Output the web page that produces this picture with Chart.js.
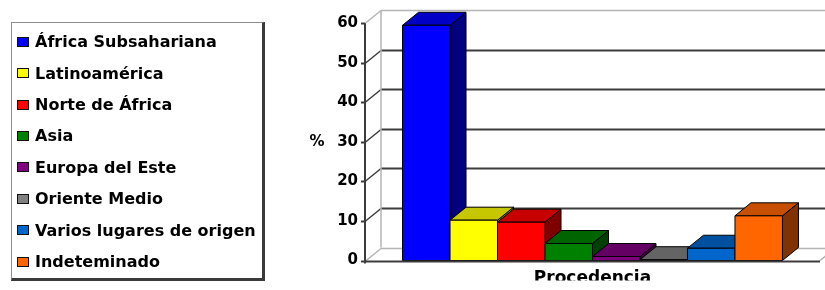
<!DOCTYPE html>
<html>
<head>
<meta charset="utf-8">
<script src="https://cdn.jsdelivr.net/npm/chart.js@4/dist/chart.umd.min.js"></script>
<style>
  html, body { margin: 0; padding: 0; background: #fff; }
  #wrap { position: relative; width: 825px; height: 290px; }
  #chart { position: absolute; left: 0; top: 0; }
  #legend {
    position: absolute; left: 11px; top: 22px; width: 250px; height: 255px;
    border: 1px solid #8c8c8c; border-right: 3px solid #3a3a3a; border-bottom: 3px solid #3a3a3a;
    font: bold 16px "DejaVu Sans", sans-serif; color: #000;
  }
  #legend ul { list-style: none; margin: 0; padding: 3px 0 0 0; }
  #legend li { height: 31.43px; display: flex; align-items: center; white-space: nowrap; }
  #legend .sw { width: 10px; height: 8px; border: 1px solid #111; margin: 0 6px 0 5px; flex: none; }
</style>
</head>
<body>
<div id="wrap">
  <canvas id="chart" width="825" height="290"></canvas>
  <div id="legend"></div>
</div>
<script>
const categories = ['Procedencia'];
const regions = ['África Subsahariana', 'Latinoamérica', 'Norte de África', 'Asia',
  'Europa del Este', 'Oriente Medio', 'Varios lugares de origen', 'Indeteminado'];
const percentages = [59.5, 10.2, 9.7, 4.3, 1.0, 0.2, 3.1, 11.3];
const yTicks = [0, 10, 20, 30, 40, 50, 60];
const frontColors = ['#0000ff', '#ffff00', '#ff0000', '#008000', '#800080', '#808080', '#0066cc', '#ff6600'];

// depth of the fake 3d
const DX = 16, DY = 13;

// darken a #rrggbb colour
function shade(hex, k) {
  const n = parseInt(hex.slice(1), 16);
  const r = Math.round(((n >> 16) & 255) * k);
  const g = Math.round(((n >> 8) & 255) * k);
  const b = Math.round((n & 255) * k);
  return 'rgb(' + r + ',' + g + ',' + b + ')';
}

function poly(ctx, pts, fill) {
  ctx.beginPath();
  ctx.moveTo(pts[0][0], pts[0][1]);
  for (let i = 1; i < pts.length; i++) ctx.lineTo(pts[i][0], pts[i][1]);
  ctx.closePath();
  ctx.fillStyle = fill;
  ctx.fill();
  ctx.stroke();
}

// legend as html, built from the chart's own legend items
const htmlLegend = {
  id: 'htmlLegend',
  afterUpdate(chart) {
    const box = document.getElementById('legend');
    const ul = document.createElement('ul');
    const items = chart.options.plugins.legend.labels.generateLabels(chart);
    items.forEach(item => {
      const li = document.createElement('li');
      const sw = document.createElement('span');
      sw.className = 'sw';
      sw.style.background = item.fillStyle;
      const txt = document.createElement('span');
      txt.textContent = item.text;
      li.appendChild(sw);
      li.appendChild(txt);
      ul.appendChild(li);
    });
    box.innerHTML = '';
    box.appendChild(ul);
  }
};

const box3d = {
  id: 'box3d',
  beforeDatasetsDraw(chart) {
    const { ctx, chartArea: a, scales: { y } } = chart;
    const y0 = y.getPixelForValue(0);
    const yTop = y.getPixelForValue(yTicks[yTicks.length - 1]);
    ctx.save();
    yTicks.forEach((v, i) => {
      const py = Math.round(y.getPixelForValue(v)) + 0.5;
      const edge = i === 0 || i === yTicks.length - 1;
      ctx.strokeStyle = edge ? '#b4b4b4' : '#3c3c3c';
      ctx.lineWidth = edge ? 1.5 : 2;
      // back wall line
      ctx.beginPath();
      ctx.moveTo(a.left + DX, py - DY);
      ctx.lineTo(a.right + DX + 10, py - DY);
      ctx.stroke();
      // side wall line
      ctx.lineWidth = 1.5;
      ctx.beginPath();
      ctx.moveTo(a.left, py);
      ctx.lineTo(a.left + DX, py - DY);
      ctx.stroke();
      // tick mark
      ctx.strokeStyle = '#3c3c3c';
      ctx.lineWidth = 2;
      ctx.beginPath();
      ctx.moveTo(a.left - 4, py);
      ctx.lineTo(a.left, py);
      ctx.stroke();
    });
    // back wall left edge
    ctx.strokeStyle = '#b4b4b4';
    ctx.lineWidth = 1.5;
    ctx.beginPath();
    ctx.moveTo(a.left + DX, y0 - DY);
    ctx.lineTo(a.left + DX, yTop - DY);
    ctx.stroke();
    // floor right edge
    ctx.beginPath();
    ctx.moveTo(a.right, y0);
    ctx.lineTo(a.right + DX, y0 - DY);
    ctx.stroke();
    // front axis
    ctx.strokeStyle = '#3c3c3c';
    ctx.lineWidth = 2;
    ctx.beginPath();
    ctx.moveTo(a.left, yTop);
    ctx.lineTo(a.left, y0 + 3);
    ctx.stroke();
    ctx.restore();
  },
  afterDatasetsDraw(chart) {
    const { ctx, chartArea: a, scales: { y } } = chart;
    ctx.save();
    ctx.strokeStyle = '#000';
    ctx.lineWidth = 1;
    ctx.lineJoin = 'round';
    chart.data.datasets.forEach((ds, i) => {
      const bar = chart.getDatasetMeta(i).data[0];
      const p = bar.getProps(['x', 'y', 'base', 'width'], true);
      const l = p.x - p.width / 2, r = p.x + p.width / 2;
      const c = frontColors[i];
      poly(ctx, [[r, p.y], [r + DX, p.y - DY], [r + DX, p.base - DY], [r, p.base]], shade(c, 0.5));
      poly(ctx, [[l, p.y], [l + DX, p.y - DY], [r + DX, p.y - DY], [r, p.y]], shade(c, 0.78));
      poly(ctx, [[l, p.y], [r, p.y], [r, p.base], [l, p.base]], c);
    });
    // front floor edge
    const y0 = Math.round(y.getPixelForValue(0)) + 0.5;
    ctx.strokeStyle = '#3c3c3c';
    ctx.lineWidth = 2;
    ctx.beginPath();
    ctx.moveTo(a.left, y0);
    ctx.lineTo(a.right, y0);
    ctx.stroke();
    ctx.restore();
  },
  afterDraw(chart) {
    const { ctx, chartArea: a, scales: { y } } = chart;
    ctx.save();
    // "%" axis title, kept upright as in the original
    ctx.font = 'bold 15px "DejaVu Sans"';
    ctx.fillStyle = '#000';
    ctx.textAlign = 'center';
    ctx.textBaseline = 'middle';
    ctx.fillText('%', a.left - 48, y.getPixelForValue(30));
    ctx.restore();
  }
};

Chart.defaults.font.family = '"DejaVu Sans", sans-serif';
Chart.defaults.font.weight = 'bold';
Chart.defaults.color = '#000';

new Chart(document.getElementById('chart'), {
  type: 'bar',
  data: {
    labels: categories,
    datasets: regions.map((name, i) => ({
      label: name,
      data: [percentages[i]],
      backgroundColor: frontColors[i],
      borderColor: '#000',
      borderWidth: 1,
    })),
  },
  options: {
    responsive: false,
    animation: false,
    layout: { padding: { top: 23.3, bottom: 9.5, left: 268, right: 5 } },
    datasets: { bar: { barPercentage: 1, categoryPercentage: 0.835 } },
    plugins: {
      tooltip: { enabled: false },
      legend: { display: false },
    },
    scales: {
      x: {
        grid: { display: false, drawTicks: false },
        border: { display: false },
        ticks: { padding: 8, font: { size: 17, weight: 'bold' } },
        afterFit(s) { s.height = 20; },
      },
      y: {
        min: 0,
        max: 60,
        grid: { display: false, drawTicks: false },
        border: { display: false },
        ticks: { stepSize: 10, padding: 7, font: { size: 15, weight: 'bold' } },
        afterFit(s) { s.width = 97; },
      },
    },
  },
  plugins: [box3d, htmlLegend],
});
</script>
</body>
</html>
